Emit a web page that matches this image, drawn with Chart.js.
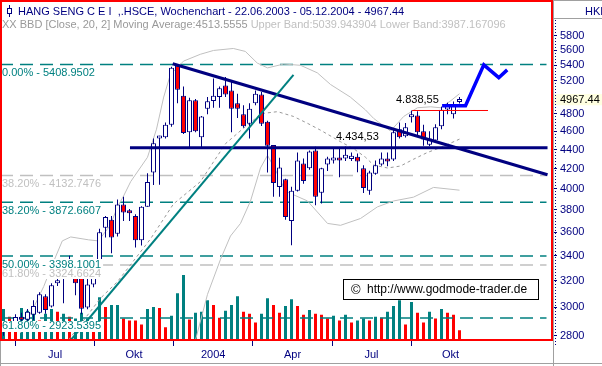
<!DOCTYPE html>
<html>
<head>
<meta charset="utf-8">
<script src="https://cdn.jsdelivr.net/npm/chart.js@4.4.0/dist/chart.umd.min.js"></script>
<style>
  html, body { margin: 0; padding: 0; background: #fff; }
  #chart { display: block; }
</style>
</head>
<body>
<canvas id="chart" width="602" height="366"></canvas>
<script>
// weekly candles, 22.06.2003 - 05.12.2004 (index = week)
var opens = [2850, 2870, 2860, 2930, 2911, 2946, 2960, 3082, 3006, 3180,
  3300, 3330, 3330, 3280, 2999, 3170, 3340, 3640, 3710, 3587,
  3851, 3790, 3745, 3530, 3830, 4163, 4520, 4533, 4674, 5395,
  5016, 4590, 4960, 4533, 4860, 4950, 5000, 5140, 5080, 4923,
  4794, 4685, 4923, 5030, 4707, 4450, 4017, 4094, 3700, 3981,
  4254, 4204, 4391, 3963, 4245, 4284, 4305, 4305, 4300, 4325,
  4204, 3981, 4150, 4245, 4305, 4295, 4622, 4545, 4760, 4779,
  4600, 4452, 4498, 4656, 4850, 4794, 4940];
var highs = [2890, 2895, 2950, 2960, 2988, 3052, 3111, 3096, 3180, 3300,
  3350, 3400, 3360, 3300, 3260, 3320, 3630, 3745, 3745, 3898,
  3925, 3810, 3760, 3835, 4155, 4520, 4550, 4700, 5380, 5408.95,
  5129, 4990, 4975, 4775, 5000, 5230, 5129, 5250, 5190, 5040,
  4900, 4923, 5080, 5060, 4720, 4450, 4315, 4100, 4020, 4369,
  4305, 4390, 4430, 4210, 4325, 4420, 4420, 4434.53, 4369, 4358,
  4235, 4180, 4284, 4369, 4369, 4622, 4700, 4695, 4838.55, 4830,
  4674, 4600, 4680, 4883, 4930, 4944, 5000];
var lows = [2800, 2830, 2850, 2890, 2897, 2911, 2953, 2953, 2999, 3160,
  3030, 3270, 3090, 2950, 2985, 3150, 3262, 3554, 3420, 3563,
  3700, 3700, 3470, 3485, 3830, 4038, 4040, 4520, 4650, 4923,
  4570, 4427, 4590, 4427, 4794, 4870, 4870, 5000, 4590, 4750,
  4640, 4520, 4900, 4660, 4163, 3925, 3925, 3710, 3487, 3975,
  4050, 4190, 3843, 3860, 4176, 4254, 4115, 4280, 4280, 4165,
  3960, 3944, 4140, 4230, 4225, 4280, 4520, 4530, 4700, 4560,
  4441, 4440, 4480, 4622, 4794, 4745, 4920];
var closes = [2870, 2860, 2930, 2910, 2967, 3009, 3096, 2981, 3166, 3200,
  3230, 3300, 3180, 2990, 3170, 3280, 3600, 3736, 3554, 3851,
  3776, 3770, 3530, 3830, 4067, 4469, 4545, 4674, 5369, 5088,
  4580, 4960, 4600, 4768, 4948, 5016, 5108, 5030, 4860, 4860,
  4656, 4860, 5040, 4685, 4441, 4058, 4214, 3735, 3981, 4284,
  4076, 4380, 3925, 4204, 4305, 4305, 4284, 4346, 4336, 4274,
  4008, 4163, 4235, 4305, 4274, 4590, 4533, 4645, 4790, 4590,
  4510, 4520, 4645, 4848, 4895, 4910, 4967.44];
var volumes = [320, 240, 150, 330, 300, 350, 200, 270, 320, 290,
  270, 240, 220, 280, 220, 180, 440, 340, 360, 360,
  220, 200, 200, 160, 320, 340, 330, 130, 250, 480,
  670, 210, 280, 290, 410, 360, 230, 300, 360, 450,
  290, 270, 180, 270, 430, 360, 280, 350, 420, 350,
  260, 310, 270, 260, 220, 250, 200, 260, 180, 200,
  220, 200, 240, 230, 290, 350, 410, 160, 390, 280,
  180, 290, 220, 320, 280, 260, 100];
var volUp = [1, 0, 0, 1, 1, 1, 0, 1, 1, 0,
  1, 0, 1, 1, 1, 0, 1, 0, 1, 1,
  0, 0, 0, 0, 1, 1, 0, 0, 1, 1,
  1, 0, 1, 1, 1, 0, 0, 1, 1, 1,
  0, 0, 0, 1, 1, 0, 0, 1, 1, 0,
  0, 1, 0, 0, 0, 1, 0, 1, 0, 1,
  1, 0, 1, 0, 1, 1, 1, 0, 1, 0,
  0, 1, 0, 1, 0, 0, 0];

// Bollinger bands (20, 2): [week, value]
var upperBand = [[2.8, 2818], [5, 2996], [6.7, 3155], [8.3, 3347], [9.8, 3525], [11.2, 3559],
  [14.2, 3534], [15.8, 3525], [17.8, 3661], [19, 3829], [20, 3930], [21.2, 4071], [24, 4319],
  [25.5, 4624], [26.7, 4999], [27.8, 5277], [30, 5455], [32.8, 5546], [35, 5598], [38.3, 5625],
  [40.3, 5585], [42.3, 5429], [44, 5366], [46.7, 5416], [49.5, 5400], [52.3, 5302], [54.5, 5154],
  [57.8, 4999], [60.3, 4847], [61.7, 4746], [64.5, 4603], [66.7, 4769], [69, 4871], [71.2, 4882],
  [72.8, 4871], [74.5, 4952], [76, 5039.943904]];
var midBand = [[10.83, 2771], [16.17, 3067], [19, 3193], [24.5, 3542], [28.33, 3856], [32.83, 4071],
  [37, 4464], [40, 4635], [43, 4802], [45.67, 4825], [48.33, 4769], [50.67, 4690], [52.83, 4613],
  [56.17, 4485], [58.33, 4411], [60.33, 4319], [61.67, 4238], [64, 4208], [66.17, 4228],
  [68.33, 4298], [70.67, 4370], [72.83, 4421], [76, 4513.5555]];
var lowerBand = [[32, 2771], [34, 3096], [36.17, 3371], [37.83, 3567], [39.5, 3678], [41.17, 3884],
  [42.83, 4208], [44, 4339], [45.33, 4188], [47, 3977], [50.67, 3884], [54, 3678], [56.17, 3661],
  [59.5, 3722], [62.33, 3829], [65, 3884], [68.33, 3920], [71.67, 4014], [76, 3987.167096]];

// fibonacci levels (set 1 = second, grey retracement)
var fibLevels = [5408.9502, 4132.7476, 3872.6607, 3398.1001, 3324.6624, 2923.5395];
var fibPct = ['0.00%', '38.20%', '38.20%', '50.00%', '61.80%', '61.80%'];
var fibSet = [0, 1, 0, 0, 1, 0];

// drawn lines
var trendUp = [[11.23, 2771], [48.33, 5277]];
var trendDown = [[28.2, 5420], [90.67, 4139]];
var support = [[21.08, 4420], [90.67, 4420]];
var breakLine = [[68.1, 4838.55], [80.75, 4838.55]];
var target = [[73.1, 4895], [77, 4895], [80.05, 5405], [82.55, 5240], [83.95, 5340]];

// marked highs
var markIdx = [57, 68];
var markVal = [4434.53, 4838.55];

// axes
var quarterStarts = [2.02, 15.17, 28.33, 41.58, 54.75, 67.92];
var quarterLabels = ['Jul', 'Okt', '2004', 'Apr', 'Jul', 'Okt'];
var yTicks = [5800, 5600, 5400, 5200, 4967.44, 4800, 4600, 4400, 4200, 4000, 3800, 3600, 3400, 3200, 3000, 2800];

var NAVY = '#000080', TEAL = '#008080', RED = '#ff0000', LIGHT = '#c0c0c0';
var FONT = '11px "Liberation Sans", Arial, sans-serif';
var lastClose = closes[closes.length - 1];

function pts(arr) {
  return arr.map(function (p) { return { x: p[0], y: p[1] }; });
}

function fmtDe(v) {
  var p = v.toFixed(2).split('.');
  return p[0].replace(/\B(?=(\d{3})+(?!\d))/g, '.') + ',' + p[1];
}

// x ticks: quarter starts get a tick mark, the middle of the quarter gets the name
var xTickVals = [], xTickText = [];
quarterStarts.forEach(function (q, k) {
  var next = k + 1 < quarterStarts.length ? quarterStarts[k + 1] : q + 13.15;
  xTickVals.push(q, (q + next) / 2);
  xTickText.push('', quarterLabels[k]);
});

var datasets = [];

datasets.push({
  type: 'bar', yAxisID: 'yv', order: 20, grouped: false, barThickness: 3, inflateAmount: 0,
  data: volumes.map(function (v, i) { return { x: i, y: v }; }),
  backgroundColor: volUp.map(function (u) { return u ? TEAL : RED; })
});

fibLevels.forEach(function (lv, k) {
  datasets.push({
    type: 'line', order: 15, data: [{ x: -0.58, y: lv }, { x: 90.5, y: lv }],
    borderColor: fibSet[k] ? LIGHT : TEAL, borderWidth: 1.5, borderDash: [13, 7], pointRadius: 0
  });
});

datasets.push({ type: 'line', order: 14, data: pts(upperBand), borderColor: LIGHT, borderWidth: 1, pointRadius: 0 });
datasets.push({ type: 'line', order: 14, data: pts(lowerBand), borderColor: LIGHT, borderWidth: 1, pointRadius: 0 });
datasets.push({ type: 'line', order: 14, data: pts(midBand), borderColor: '#999999', borderWidth: 1, borderDash: [3, 3], pointRadius: 0 });

// wicks
datasets.push({
  type: 'bar', order: 12, grouped: false, barThickness: 1, inflateAmount: 0,
  data: closes.map(function (c, i) { return { x: i, y: [lows[i], highs[i]] }; }),
  backgroundColor: NAVY
});
// bodies
datasets.push({
  type: 'bar', order: 11, grouped: false, barThickness: 5, inflateAmount: 0,
  borderWidth: 1, borderColor: NAVY, borderSkipped: false, minBarLength: 3,
  data: closes.map(function (c, i) { return { x: i, y: [Math.min(opens[i], c), Math.max(opens[i], c)] }; }),
  backgroundColor: closes.map(function (c, i) { return c >= opens[i] ? '#ffffff' : RED; })
});

datasets.push({ type: 'line', order: 5, data: pts(trendUp), borderColor: TEAL, borderWidth: 2, pointRadius: 0 });
datasets.push({ type: 'line', order: 5, data: pts(trendDown), borderColor: NAVY, borderWidth: 3, pointRadius: 0 });
datasets.push({ type: 'line', order: 5, data: pts(support), borderColor: NAVY, borderWidth: 3, pointRadius: 0 });
datasets.push({ type: 'line', order: 4, data: pts(breakLine), borderColor: RED, borderWidth: 1, pointRadius: 0 });
datasets.push({ type: 'line', order: 3, data: pts(target), borderColor: '#0000ff', borderWidth: 3.5, pointRadius: 0 });

var decor = {
  id: 'decor',
  afterDatasetsDraw: function (chart) {
    var c = chart.ctx, a = chart.chartArea, sx = chart.scales.x, sy = chart.scales.y;
    c.save();
    c.font = FONT;
    c.textBaseline = 'middle';
    c.textAlign = 'left';

    // fib captions sit on white boxes
    fibLevels.forEach(function (lv, k) {
      var txt = fibPct[k] + ' - ' + lv.toFixed(4);
      var cy = sy.getPixelForValue(lv) + 8.5;
      var w = c.measureText(txt).width;
      c.fillStyle = '#fff';
      c.fillRect(a.left, Math.round(cy - 5.5), w + 4, 11);
      c.fillStyle = fibSet[k] ? LIGHT : TEAL;
      c.fillText(txt, a.left + 2, cy);
    });

    // marked highs
    var shift = [[-9.5, -9], [-15.5, -10.5]];
    c.fillStyle = '#000';
    markIdx.forEach(function (i, k) {
      var px = sx.getPixelForValue(i), py = sy.getPixelForValue(markVal[k]);
      c.fillText(fmtDe(markVal[k]), px + shift[k][0], py + shift[k][1]);
    });

    // copyright box
    c.fillStyle = '#fff';
    c.fillRect(343, 279, 196, 21);
    c.strokeStyle = '#000';
    c.lineWidth = 1;
    c.strokeRect(343.5, 279.5, 195, 20);
    c.fillStyle = '#000';
    c.font = '13px "Liberation Sans", Arial, sans-serif';
    c.fillText('\u00a9', 351, 290);
    c.font = '12px "Liberation Sans", Arial, sans-serif';
    c.fillText('http://www.godmode-trader.de', 367, 290);

    // header
    c.font = FONT;
    c.strokeStyle = NAVY;
    c.beginPath();
    c.moveTo(9.5, 5); c.lineTo(9.5, 17);
    c.stroke();
    c.fillStyle = '#fff';
    c.fillRect(7, 8, 5, 6);
    c.strokeRect(7.5, 8.5, 4, 5);
    c.fillStyle = NAVY;
    c.fillText('HANG SENG C E I  ,.HSCE, Wochenchart - 22.06.2003 - 05.12.2004 - ' + lastClose.toFixed(2), 18, 11.5);
    var part1 = 'XX BBD [Close, 20, 2] Moving Average:' + midBand[midBand.length - 1][1].toFixed(4) + ' ';
    var part2 = 'Upper Band:' + upperBand[upperBand.length - 1][1].toFixed(6) +
      ' Lower Band:' + lowerBand[lowerBand.length - 1][1].toFixed(6);
    c.fillStyle = '#999999';
    c.fillText(part1, 2, 24.5);
    c.fillStyle = LIGHT;
    c.fillText(part2, 2 + c.measureText(part1).width, 24.5);
    c.restore();
  },
  afterDraw: function (chart) {
    var c = chart.ctx;
    c.save();
    c.strokeStyle = '#a0a0a0';
    c.lineWidth = 1;
    c.beginPath();
    c.moveTo(553, 0.5); c.lineTo(602, 0.5);
    c.moveTo(553, 18.5); c.lineTo(602, 18.5);
    c.moveTo(553.5, 0); c.lineTo(553.5, 366);
    c.moveTo(0, 363.5); c.lineTo(602, 363.5);
    c.moveTo(0.5, 340); c.lineTo(0.5, 366);
    c.stroke();

    c.strokeStyle = NAVY;
    c.setLineDash([1, 2]);
    c.beginPath();
    c.moveTo(555.5, 20); c.lineTo(555.5, 345);
    c.stroke();
    c.setLineDash([]);

    c.font = FONT;
    c.fillStyle = NAVY;
    c.textBaseline = 'middle';
    c.fillText('HKD', 585, 11.5);

    c.strokeStyle = RED;
    c.lineWidth = 2;
    c.strokeRect(1, 1, 551, 339);
    c.restore();
  }
};

Chart.defaults.font.family = '"Liberation Sans", Arial, sans-serif';
Chart.defaults.font.size = 11;

var chart = new Chart(document.getElementById('chart').getContext('2d'), {
  type: 'bar',
  data: { datasets: datasets },
  options: {
    responsive: false,
    devicePixelRatio: 1,
    animation: false,
    events: [],
    layout: { padding: 0 },
    plugins: { legend: { display: false }, tooltip: { enabled: false } },
    scales: {
      x: {
        type: 'linear', position: 'bottom', offset: false,
        min: -0.5 - 1 / 12, max: 91.5 - 1 / 12,
        grid: {
          display: true, drawOnChartArea: false, drawTicks: true, tickLength: 6, offset: false,
          color: 'rgba(0,0,0,0)', lineWidth: 1, tickWidth: 1,
          tickColor: function (ctx) { return ctx.index % 2 === 0 ? NAVY : 'rgba(0,0,0,0)'; }
        },
        border: { display: false },
        afterBuildTicks: function (s) { s.ticks = xTickVals.map(function (v) { return { value: v }; }); },
        afterFit: function (s) { s.height = 26; },
        ticks: {
          autoSkip: false, maxRotation: 0, minRotation: 0, padding: 2, color: NAVY,
          callback: function (v, i) { return xTickText[i]; }
        }
      },
      y: {
        type: 'logarithmic', position: 'right', min: 2771, max: 6182,
        grid: { drawOnChartArea: false, drawTicks: true, tickLength: 5, tickColor: NAVY },
        border: { display: false },
        afterBuildTicks: function (s) { s.ticks = yTicks.map(function (v) { return { value: v }; }); },
        afterFit: function (s) { s.width = 50; },
        ticks: {
          autoSkip: false, padding: 3,
          color: function (ctx) { return ctx.tick && ctx.tick.value === lastClose ? '#000' : NAVY; },
          showLabelBackdrop: function (ctx) { return !!(ctx.tick && ctx.tick.value === lastClose); },
          backdropColor: '#ffffe1',
          backdropPadding: { left: 7, right: 4, top: -1, bottom: -1 },
          callback: function (v) { return v === lastClose ? v.toFixed(2) : String(v); }
        }
      },
      yv: { type: 'linear', display: false, min: 0, max: 3400 }
    }
  },
  plugins: [decor]
});
</script>
</body>
</html>
